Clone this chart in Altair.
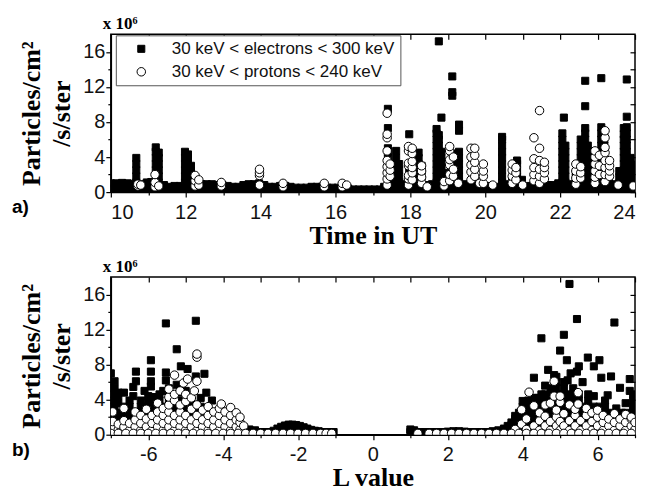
import altair as alt
import pandas as pd

E_LABEL = "30 keV < electrons < 300 keV"
P_LABEL = "30 keV < protons < 240 keV"

# ---- Panel a): flux (x 1e6 particles/cm2/s/ster) vs time in UT ----
# each entry: (time in UT, [flux values at that time])
top_electrons = [
    (10.0, [0.4, 1.0]), (10.15, [0.4, 1.0]), (10.3, [0.4, 1.05]), (10.45, [0.4, 1.0]), (10.57, [0.35, 0.9]),
    (10.68, [0.4, 1.1, 1.8, 2.5, 3.2, 3.9]),
    (10.82, [0.35, 0.9]), (10.96, [0.4, 1.1]), (11.08, [0.4, 1.15]),
    (11.2, [0.4, 1.1, 1.8, 2.5, 3.2, 3.9, 4.6, 5.1]), (11.28, [0.4, 1.1, 1.8, 2.5, 3.2, 3.9, 4.5]),
    (11.42, [0.3, 0.8]), (11.56, [0.3, 0.6]), (11.7, [0.3, 0.7]), (11.84, [0.3, 0.7]),
    (11.98, [0.4, 1.1, 1.8, 2.5, 3.2, 3.9, 4.6]), (12.06, [0.4, 1.1, 1.8, 2.5, 3.2, 3.9, 4.3]),
    (12.14, [0.4, 1.0, 1.7, 2.4, 3.0]),
    (12.28, [0.3, 0.8]), (12.42, [0.3, 0.9]), (12.56, [0.3, 0.9]), (12.7, [0.3, 0.9]), (12.84, [0.3, 0.8]),
    (12.98, [0.3, 0.8]), (13.12, [0.3, 0.7]), (13.26, [0.3, 0.6]), (13.4, [0.3, 0.6]), (13.54, [0.3, 0.8]),
    (13.68, [0.3, 0.9]), (13.82, [0.3, 0.9]), (13.96, [0.3, 1.0]), (14.1, [0.3, 0.8]), (14.24, [0.3, 0.6]),
    (14.38, [0.3, 0.6]), (14.52, [0.3, 0.7]), (14.66, [0.3, 0.7]), (14.8, [0.3, 0.6]), (14.94, [0.3, 0.5]),
    (15.08, [0.3, 0.5]), (15.22, [0.3, 0.5]), (15.36, [0.3, 0.6]), (15.5, [0.3, 0.6]), (15.64, [0.3, 0.6]),
    (15.78, [0.3, 0.5]), (15.92, [0.3, 0.5]), (16.06, [0.3, 0.5]), (16.2, [0.3, 0.5]), (16.34, [0.3, 0.4]),
    (16.48, [0.3]), (16.62, [0.3]), (16.76, [0.3]), (16.9, [0.3]), (17.04, [0.3]), (17.18, [0.3]),
    (17.3, [0.3, 0.6]),
    (17.4, [0.4, 1.1, 1.8, 2.5, 3.2, 3.9, 4.6, 5.0, 7.3, 9.5]),
    (17.5, [0.4, 1.0, 1.6, 2.2]),
    (17.62, [0.4, 1.1, 1.8, 2.5, 3.2, 3.9, 4.7]), (17.7, [0.4, 1.1, 1.8, 2.5, 3.2]),
    (17.84, [0.4, 0.9]),
    (17.97, [0.4, 1.0, 1.7, 2.4, 6.6]), (18.1, [0.4, 1.0, 1.6]),
    (18.22, [0.4, 1.1, 1.8, 2.5, 3.2, 3.9, 4.5]), (18.3, [0.4, 1.1, 1.8, 2.5, 3.0]),
    (18.44, [0.3, 0.8]), (18.58, [0.3, 0.9]),
    (18.7, [0.4, 1.1, 1.8, 2.5, 3.2, 3.9, 4.6, 5.3, 6.0, 6.7, 7.2]),
    (18.76, [0.4, 1.1, 1.8, 2.5, 3.2, 3.9, 4.6, 5.3, 6.0, 6.5, 17.2]),
    (18.83, [0.4, 1.1, 1.8, 2.5, 3.2, 3.9, 4.6, 8.5]),
    (18.95, [0.4, 1.0, 1.6, 2.2]),
    (19.12, [0.4, 1.1, 1.8, 2.5, 11.0, 11.4, 13.2]),
    (19.2, [0.4, 1.1, 1.8, 2.5, 3.2, 3.9, 4.4]),
    (19.3, [0.4, 1.1, 1.8, 2.5, 3.2, 3.9, 4.6, 7.0, 7.7]),
    (19.44, [0.3, 0.9]), (19.58, [0.3, 0.8]), (19.72, [0.3, 0.9]), (19.86, [0.3, 0.8]), (20.0, [0.3, 0.7]),
    (20.14, [0.3, 0.6]), (20.28, [0.3, 0.6]),
    (20.45, [0.4, 1.1, 1.8, 2.5, 3.2, 3.9, 4.6, 5.3, 6.0, 6.3]),
    (20.6, [0.3, 0.9]), (20.72, [0.3, 1.0, 1.7]),
    (20.85, [0.4, 1.1, 1.8, 2.5, 3.2, 3.6]),
    (20.98, [0.3, 0.8, 1.4]), (21.12, [0.3, 0.7]), (21.26, [0.3, 0.7]), (21.4, [0.3, 0.6]), (21.54, [0.3, 0.6]),
    (21.68, [0.3, 0.8]), (21.82, [0.3, 0.8]), (21.95, [0.3, 1.0]),
    (22.06, [0.4, 1.1, 1.8, 2.5, 3.2, 3.9, 4.6, 5.3, 6.0, 6.7]), (22.1, [8.5]),
    (22.14, [0.4, 1.1, 1.8, 2.5, 3.2, 3.9, 4.6, 5.3]),
    (22.28, [0.3, 0.9]), (22.42, [0.4, 1.0, 1.7, 2.3]),
    (22.55, [0.4, 1.1, 1.8, 2.5, 3.2, 3.9, 4.6, 5.3, 6.0]),
    (22.67, [0.4, 1.1, 1.8, 2.5, 3.2, 3.9, 4.6, 5.3, 6.0, 6.7, 7.3, 9.8, 12.7]),
    (22.74, [0.4, 1.1, 1.8, 2.5, 3.2, 3.9, 4.6, 5.3]),
    (22.86, [0.3, 0.9]), (22.98, [0.3, 1.0, 1.7]),
    (23.1, [0.4, 1.1, 1.8, 2.5, 3.2, 3.9, 4.6, 5.3, 6.0, 6.7, 7.4, 13.0]),
    (23.18, [0.4, 1.1, 1.8, 2.5, 3.2, 3.9, 4.6, 5.3, 6.0, 6.6]),
    (23.3, [0.3, 1.0, 1.6]), (23.44, [0.3, 0.9]), (23.58, [0.3, 1.0, 1.7, 2.4]),
    (23.7, [0.4, 1.1, 1.8, 2.5, 3.2, 3.9, 4.6, 5.3, 6.0, 6.6, 7.3]),
    (23.78, [0.4, 1.1, 1.8, 2.5, 3.2, 3.9, 4.6, 5.3, 6.0, 6.7, 7.4, 8.6, 12.85]),
    (23.88, [0.4, 1.1, 1.8, 2.5, 3.2, 3.9]),
    (23.98, [0.3, 1.0, 1.7, 2.4, 3.1]),
]

top_protons = [
    (10.72, [0.7, 0.9]), (10.8, [0.8]),
    (11.18, [0.6, 1.1, 2.0]), (11.28, [0.7]),
    (12.25, [0.7, 1.3, 1.9]), (12.35, [0.8, 1.4]),
    (12.95, [0.7, 1.1]),
    (13.97, [0.8, 1.9, 2.2, 2.6]),
    (14.6, [0.6, 1.0]),
    (15.7, [0.6, 1.0]),
    (16.18, [0.6, 1.0]), (16.3, [0.8]),
    (17.38, [0.8, 1.5, 2.2, 2.9, 3.6, 4.7, 6.2, 6.6, 9.0]), (17.46, [1.8, 2.5, 3.2]),
    (17.95, [0.8, 1.5, 1.9, 3.0, 3.3, 4.7, 5.2]), (18.05, [1.4, 2.2, 2.8, 3.5, 4.4, 5.0]),
    (18.3, [1.0, 1.7, 2.4, 3.0]), (18.45, [0.6]),
    (18.9, [0.7, 1.2]),
    (19.05, [1.3, 2.0, 3.1, 3.7, 4.7, 5.2]), (19.15, [1.8, 2.6, 4.0]), (19.28, [1.0]),
    (19.62, [1.4, 2.3, 3.1, 4.0, 5.0]), (19.72, [1.8, 2.6, 3.4, 4.2, 5.0]), (19.85, [1.0]),
    (19.95, [1.0, 1.8, 2.4, 3.2]), (20.2, [0.8]),
    (20.72, [1.0, 1.8, 2.5, 3.2]), (20.82, [1.4, 2.2, 2.8]), (21.0, [0.8]),
    (21.3, [1.3, 2.0, 2.8, 3.8, 6.2]), (21.45, [1.0, 1.8, 2.6, 3.6, 5.0, 9.3]), (21.58, [1.5, 2.2, 2.8, 3.4]),
    (22.42, [0.9, 1.6, 2.4, 3.2]), (22.55, [1.6, 2.2, 2.9]),
    (22.93, [1.0, 1.7, 2.4, 3.2, 4.0, 4.7]), (23.05, [2.0, 3.0, 4.2]),
    (23.2, [1.2, 2.0, 2.8, 3.6, 4.5, 5.1, 6.2, 7.0]), (23.32, [1.8, 2.4, 3.0, 3.6]),
    (23.55, [0.8]), (23.95, [0.7]),
]

# ---- Panel b): flux vs L value ----
bottom_electrons = [
    (-7.0, [0.4, 1.1, 1.8, 2.5, 3.2, 3.9, 4.6, 5.3, 7.0]),
    (-6.9, [0.4, 1.1, 1.8, 2.5, 3.2, 3.9, 4.6, 5.3, 6.1]),
    (-6.8, [0.4, 1.1, 1.8, 2.5, 3.6, 4.4, 4.8]),
    (-6.65, [0.4, 1.1, 1.8, 2.5, 3.2, 4.8]),
    (-6.5, [0.4, 1.1, 1.8, 2.5, 3.2, 3.9]),
    (-6.4, [0.4, 1.1, 1.8, 2.5, 4.4, 5.45]),
    (-6.33, [6.1, 7.2]),
    (-6.2, [0.4, 1.1, 1.8, 2.5, 3.2, 3.9]),
    (-6.1, [0.4, 1.1, 1.8, 2.5, 3.2, 5.0]),
    (-6.0, [0.4, 1.1, 1.8, 2.5, 3.2, 3.9, 4.4]),
    (-5.93, [5.5, 6.1, 7.2, 8.5]),
    (-5.85, [0.4, 1.1, 1.8, 2.5, 3.2, 3.9, 4.3]),
    (-5.7, [0.4, 1.1, 1.8, 2.5, 3.2, 3.9, 4.6]),
    (-5.6, [0.4, 1.1, 1.8, 2.5, 3.2, 5.0]),
    (-5.53, [6.2, 7.1, 12.7]),
    (-5.45, [0.4, 1.1, 1.8, 2.5, 3.2, 3.9, 4.6, 5.3]),
    (-5.3, [0.4, 1.1, 1.8, 2.5, 3.2, 3.9, 4.6]),
    (-5.24, [5.7, 9.75]),
    (-5.13, [0.4, 1.1, 1.8, 2.5, 3.2, 3.9, 4.8, 7.8]),
    (-5.0, [0.4, 1.1, 1.8, 2.5, 3.2, 3.9, 5.0]),
    (-4.95, [7.5]),
    (-4.85, [0.4, 1.1, 1.8, 2.5, 3.2, 3.9]),
    (-4.73, [0.4, 1.1, 1.8, 2.5, 3.2, 6.65, 13.0]),
    (-4.6, [0.4, 1.1, 1.8, 2.5, 3.2, 4.2]),
    (-4.5, [0.4, 1.1, 1.8, 2.5, 6.95]),
    (-4.45, [4.8]),
    (-4.35, [0.4, 1.1, 1.8, 2.5]),
    (-4.3, [3.9]),
    (-4.2, [0.4, 1.1, 1.8, 2.4]),
    (-4.05, [0.4, 1.1, 1.8]),
    (-3.9, [0.4, 1.1, 1.6]),
    (-3.75, [0.4, 1.0, 1.4]),
    (-3.6, [0.4, 1.0]),
    (-3.45, [0.3, 0.8]),
    (-3.3, [0.3, 0.6]),
    (-3.15, [0.3, 0.5]),
    (-3.0, [0.3]), (-2.87, [0.3]), (-2.75, [0.3]),
    (-2.65, [0.3, 0.45]), (-2.55, [0.3, 0.7]), (-2.45, [0.3, 0.9]), (-2.35, [0.3, 1.05]),
    (-2.25, [0.3, 1.15]), (-2.15, [0.3, 1.15]), (-2.05, [0.3, 1.1]), (-1.95, [0.3, 1.0]),
    (-1.85, [0.3, 0.85]), (-1.75, [0.3, 0.7]), (-1.65, [0.3, 0.55]), (-1.55, [0.3, 0.45]),
    (-1.45, [0.3, 0.4]), (-1.3, [0.3]), (-1.15, [0.3]), (-1.05, [0.3]),
    (1.0, [0.3, 0.6]), (1.1, [0.3, 0.5]), (1.25, [0.3]), (1.4, [0.3]), (1.55, [0.3]), (1.7, [0.3]),
    (1.85, [0.3]), (2.0, [0.3, 0.35]), (2.15, [0.3, 0.4]), (2.3, [0.3, 0.4]), (2.45, [0.3, 0.35]),
    (2.6, [0.3]), (2.75, [0.3]), (2.9, [0.3]), (3.05, [0.3]), (3.2, [0.3, 0.4]), (3.35, [0.3, 0.5]),
    (3.5, [0.3, 0.7]), (3.6, [0.4, 1.0]), (3.7, [0.4, 1.1, 1.4]), (3.8, [0.4, 1.1, 1.8, 2.15]),
    (3.9, [0.4, 1.1, 1.8, 2.5]), (4.0, [0.4, 1.1, 1.8, 2.5, 3.2, 3.85]), (4.06, [2.9]),
    (4.15, [0.4, 1.1, 1.8, 2.5, 3.2, 3.9]),
    (4.3, [0.4, 1.1, 1.8, 2.5, 3.2, 3.9, 4.2, 6.5]),
    (4.4, [0.4, 1.1, 1.8, 2.5, 3.2, 4.2]),
    (4.5, [0.4, 1.1, 1.8, 2.5, 3.2, 3.9, 4.6, 11.0]),
    (4.6, [0.4, 1.1, 1.8, 2.5, 3.2, 3.9, 4.6, 5.6]),
    (4.68, [7.4]),
    (4.75, [0.4, 1.1, 1.8, 2.5, 3.2, 3.9, 4.6, 5.3]),
    (4.84, [6.8]),
    (4.9, [0.4, 1.1, 1.8, 2.5, 3.2, 3.9, 4.6, 5.3, 6.0, 6.6]),
    (5.0, [0.4, 1.1, 1.8, 2.5, 3.2, 3.9, 4.6, 9.6]),
    (5.1, [0.4, 1.1, 1.8, 2.5, 3.2, 3.9, 4.6, 5.3, 6.0, 11.4]),
    (5.18, [8.5]),
    (5.2, [0.4, 1.1, 1.8, 2.5, 3.2, 3.9, 4.6, 6.2]),
    (5.25, [17.2]),
    (5.28, [7.0]),
    (5.35, [0.4, 1.1, 1.8, 2.5, 3.2, 3.9, 4.6, 5.3]),
    (5.45, [7.2, 13.2]),
    (5.5, [0.4, 1.1, 1.8, 2.5, 3.2, 3.9, 4.6, 7.8]),
    (5.6, [0.4, 1.1, 1.8, 2.5, 3.2, 6.0]),
    (5.74, [8.8]),
    (5.75, [0.4, 1.1, 1.8, 2.5, 3.2, 3.9, 4.6]),
    (5.9, [0.4, 1.1, 1.8, 2.5, 3.2, 4.4, 7.8]),
    (6.05, [0.4, 1.1, 1.8, 2.5, 3.2, 8.5]),
    (6.1, [6.5]),
    (6.2, [0.4, 1.1, 1.8, 2.5, 3.2, 3.9]),
    (6.27, [4.5]),
    (6.36, [0.4, 1.1, 1.8, 2.5, 6.65]),
    (6.45, [12.8]),
    (6.5, [0.4, 1.1, 1.8, 2.5, 3.0]),
    (6.6, [5.35]),
    (6.65, [0.4, 1.1, 1.8, 2.5]),
    (6.75, [0.4, 1.1, 1.8, 2.5, 3.6]),
    (6.86, [5.0, 6.35]),
    (6.95, [0.4, 1.1, 1.8, 2.5, 3.2, 3.9, 4.6]),
]

bottom_protons = [
    (-6.95, [0.8, 1.5, 2.6]), (-6.8, [0.6, 1.2]), (-6.65, [0.9, 1.6, 3.0]), (-6.5, [0.5, 1.3]),
    (-6.35, [0.9, 1.7, 2.6]), (-6.2, [0.5, 1.3, 2.2]), (-6.05, [0.9, 1.8, 2.9]),
    (-5.9, [0.5, 1.3, 2.2]), (-5.75, [0.9, 1.7, 2.6, 3.6]), (-5.6, [0.5, 1.3, 2.2, 3.0]),
    (-5.45, [0.9, 1.7, 2.6, 3.4, 4.3, 5.2]), (-5.3, [0.5, 1.3, 2.2, 3.9, 4.6, 6.8]),
    (-5.15, [0.9, 1.7, 2.6, 3.4, 5.0]), (-5.06, [5.9]), (-5.0, [0.5, 1.3, 2.2, 3.8, 4.6]),
    (-4.95, [6.35]), (-4.85, [0.9, 1.7, 2.9, 4.2]), (-4.77, [5.0]),
    (-4.7, [0.5, 1.3, 2.2, 3.4, 6.1, 8.85, 9.2]), (-4.55, [0.9, 1.7, 2.8]),
    (-4.4, [0.5, 1.3, 2.2, 3.2]), (-4.25, [0.9, 1.7, 2.6]), (-4.1, [0.5, 1.3, 2.2, 3.0]),
    (-4.05, [3.5]), (-3.95, [0.9, 1.7, 2.6]), (-3.8, [0.5, 1.3, 2.2, 3.1]), (-3.65, [0.9, 1.7, 2.5]),
    (-3.55, [0.6, 1.4, 2.0]), (-3.45, [1.0]),
    (3.8, [0.6]), (3.97, [1.2, 2.85]), (4.1, [0.6, 1.8]), (4.17, [4.85]), (4.3, [1.0, 3.3]),
    (4.45, [0.5, 1.6, 2.5]), (4.6, [1.0, 2.1, 3.4]), (4.74, [0.5, 1.5, 3.6]), (4.84, [4.4, 6.1]),
    (4.9, [1.0, 2.0, 2.8]), (5.0, [0.5, 1.5, 3.7, 4.4]), (5.1, [1.0, 2.4]), (5.25, [0.5, 1.6, 3.4]),
    (5.4, [1.0, 2.2, 2.9]), (5.48, [3.5, 4.8]), (5.55, [0.5, 1.6]), (5.7, [1.0, 2.2, 3.0]),
    (5.85, [0.5, 1.5, 2.5]), (6.0, [1.0, 2.0, 2.8]), (6.15, [0.5, 1.4, 2.2]), (6.3, [1.0, 1.8]),
    (6.45, [0.5, 1.4, 2.4]), (6.6, [1.0, 1.8]), (6.75, [0.5, 1.4, 2.3]), (6.9, [1.0, 1.8, 2.0]),
    (7.0, [0.6, 1.4]),
]

# row of proton points sitting on the zero line (L values)
bottom_protons_zero_L = [
    -7.0, -6.8, -6.6, -6.4, -6.2, -6.0, -5.8, -5.6, -5.4, -5.2, -5.0, -4.8, -4.6, -4.4, -4.2, -4.0,
    -3.8, -3.6, -3.4, -3.2, -3.0, -2.8, -2.6, -2.4, -2.2, -2.0, -1.8, -1.6, -1.4, -1.25, -1.1,
    1.2, 1.5, 1.7, 1.9, 2.1, 2.3, 2.5, 2.7, 2.9, 3.1, 3.3, 3.5, 3.7, 3.9, 4.1, 4.3, 4.5, 4.7,
    4.9, 5.1, 5.3, 5.5, 5.7, 5.9, 6.1, 6.3, 6.5, 6.7, 6.9,
]
bottom_protons_zero_flux = 0.15


def to_frame(columns, label):
    rows = []
    for x, vals in columns:
        for v in vals:
            rows.append({"x": x, "y": v, "series": label})
    return pd.DataFrame(rows)


df_top_e = to_frame(top_electrons, E_LABEL)
df_top_p = to_frame(top_protons, P_LABEL)
df_bot_e = to_frame(bottom_electrons, E_LABEL)
df_bot_p = pd.concat([
    to_frame(bottom_protons, P_LABEL),
    pd.DataFrame({"x": bottom_protons_zero_L,
                  "y": [bottom_protons_zero_flux] * len(bottom_protons_zero_L),
                  "series": P_LABEL}),
], ignore_index=True)

W, H = 525, 158
SERIF = "Liberation Serif"
SANS = "Liberation Sans"

legend = alt.Legend(
    title=None, orient="none", legendX=5, legendY=1,
    strokeColor="#555", fillColor="white", padding=5,
    symbolOffset=12, labelOffset=22, rowPadding=5,
    labelFont=SANS, labelFontSize=17, labelColor="#111", labelLimit=400,
    symbolStrokeWidth=1,
)


def series_enc(show_legend):
    lg = legend if show_legend else None
    dom = [E_LABEL, P_LABEL]
    return dict(
        shape=alt.Shape("series:N", scale=alt.Scale(domain=dom, range=["square", "circle"]), legend=lg),
        fill=alt.Fill("series:N", scale=alt.Scale(domain=dom, range=["black", "white"]), legend=lg),
        stroke=alt.Stroke("series:N", scale=alt.Scale(domain=dom, range=["black", "black"]), legend=lg),
        size=alt.Size("series:N", scale=alt.Scale(domain=dom, range=[50, 72]), legend=lg),
    )


LABEL_EVEN = ("datum.value % 2 === 0 ? (datum.value < 0 ? '-' + abs(datum.value) : '' + datum.value) : ''")


def panel(df_e, df_p, xdom, xvals, yvals, xtitle, tag, show_legend):
    xscale = alt.Scale(domain=xdom, nice=False, zero=False)
    yscale = alt.Scale(domain=[0, 18], nice=False)
    x_bottom = alt.X("x:Q", scale=xscale, axis=alt.Axis(
        orient="bottom", values=xvals, title=xtitle,
        labelExpr=LABEL_EVEN,
        tickSize={"condition": {"test": "datum.value % 2 === 0", "value": 5}, "value": 3},
        labelPadding=5, titlePadding=0,
        titleFont=SERIF, titleFontSize=26, titleFontWeight="bold",
    ))
    y_left = alt.Y("y:Q", scale=yscale, axis=alt.Axis(
        orient="left", values=yvals, title=["Particles/cm\u00b2", "/s/ster"],
        labelExpr="datum.value % 4 === 0 ? datum.label : ''",
        tickSize={"condition": {"test": "datum.value % 4 === 0", "value": 5}, "value": 3},
        labelPadding=1, titlePadding=8, titleLineHeight=30,
        titleFont=SERIF, titleFontSize=26, titleFontWeight="bold",
    ))
    x_top = alt.X("x:Q", scale=xscale, axis=alt.Axis(
        orient="top", values=xvals, labels=False, title=None, domain=False,
        tickSize=5, offset=-5,
    ))
    y_right = alt.Y("y:Q", scale=yscale, axis=alt.Axis(
        orient="right", values=yvals, labels=False, title=None, domain=False,
        tickSize=5, offset=-5,
    ))
    enc = series_enc(show_legend)
    elec = alt.Chart(df_e).mark_point(
        filled=True, opacity=1, strokeWidth=1, clip=True
    ).encode(x=x_bottom, y=y_left, **enc)
    prot = alt.Chart(df_p).mark_point(
        filled=True, opacity=1, strokeWidth=1, clip=True
    ).encode(x=x_top, y=y_right, **enc)
    mult = alt.Chart(pd.DataFrame({"t": ["x 10\u2076"]})).mark_text(
        font=SERIF, fontSize=17, fontWeight="bold", align="left", baseline="alphabetic", color="black"
    ).encode(text="t:N", x=alt.value(-8), y=alt.value(-5))
    lab = alt.Chart(pd.DataFrame({"t": [tag]})).mark_text(
        font=SANS, fontSize=19, fontWeight="bold", align="left", baseline="alphabetic", color="black"
    ).encode(text="t:N", x=alt.value(-99), y=alt.value(H + 21))
    return alt.layer(elec, prot, mult, lab).properties(width=W, height=H)


top = panel(df_top_e, df_top_p, [10, 24], list(range(10, 25)), list(range(0, 17, 2)),
            "Time in UT", "a)", True)
bottom = panel(df_bot_e, df_bot_p, [-7, 7], list(range(-7, 8)), list(range(0, 17, 2)),
               "L value", "b)", False)

chart = alt.vconcat(top, bottom, spacing=8).resolve_scale(
    shape="independent", fill="independent", size="independent", stroke="independent"
).properties(
    padding={"left": 3, "top": 6, "right": 0, "bottom": 0}
).configure_view(
    stroke="black", strokeWidth=1.5
).configure_axis(
    grid=False, domainColor="black", domainWidth=1.5, tickColor="black", tickWidth=1.2,
    labelFont=SANS, labelFontSize=20, labelColor="#111", titleColor="black",
)

chart.save("out.html", embed_options={"renderer": "svg", "actions": False})
